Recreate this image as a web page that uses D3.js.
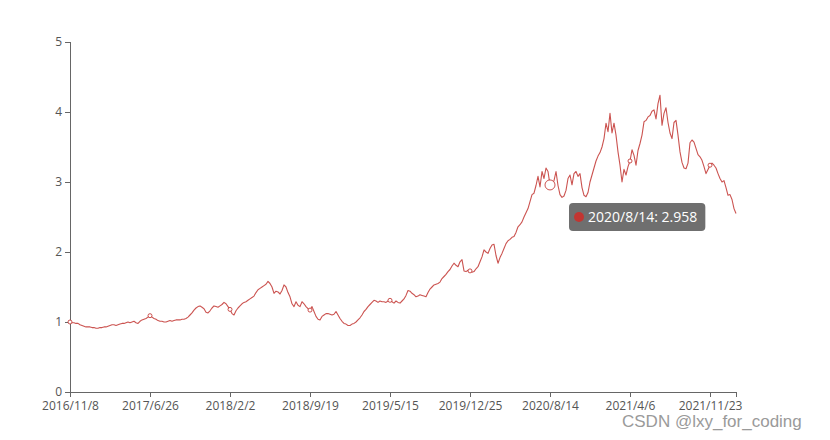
<!doctype html>
<html lang="en">
<head>
    <meta charset="UTF-8">
    <title>Document</title>
    <style>
        body { margin: 0; background: #fff; }
        text { font-family: "Open Sans", "Noto Sans", sans-serif; }
    </style>
</head>
<body>

<div class="canvas">
    <svg width="830" height="440"></svg>
</div>

<script src="https://d3js.org/d3.v7.min.js"></script>
<script>
    // x tick labels, one every `tickEvery` samples
    const tickLabels = ['2016/11/8', '2017/6/26', '2018/2/2', '2018/9/19', '2019/5/15',
        '2019/12/25', '2020/8/14', '2021/4/6', '2021/11/23'];
    const tickEvery = 40;
    const yTicks = [0, 1, 2, 3, 4, 5];

    const values = [
        1.00, 0.99, 0.99, 0.98, 0.98, 0.96, 0.95, 0.94, 0.93, 0.93, 0.93, 0.92, 0.92, 0.91, 0.91,
        0.92, 0.92, 0.93, 0.93, 0.94, 0.95, 0.96, 0.96, 0.95, 0.96, 0.97, 0.98, 0.98, 0.99, 1.00,
        0.99, 1.00, 1.01, 0.99, 0.98, 1.01, 1.03, 1.04, 1.05, 1.07, 1.09, 1.07, 1.05, 1.04, 1.02,
        1.01, 1.01, 1.00, 1.00, 1.01, 1.02, 1.01, 1.02, 1.03, 1.03,

        1.03, 1.04, 1.04, 1.05, 1.07, 1.10, 1.13, 1.17, 1.20, 1.22, 1.23, 1.21, 1.19, 1.14, 1.13,
        1.16, 1.20, 1.23, 1.22, 1.21, 1.23, 1.25, 1.28, 1.26, 1.22, 1.18, 1.12, 1.10, 1.16, 1.20,
        1.23, 1.26, 1.28, 1.29, 1.31, 1.33, 1.35, 1.37, 1.42, 1.46, 1.48, 1.50, 1.52, 1.54, 1.58,
        1.55, 1.50, 1.41, 1.44, 1.43, 1.40, 1.45, 1.53, 1.50, 1.42,

        1.36, 1.26, 1.22, 1.29, 1.24, 1.22, 1.29, 1.26, 1.22, 1.19, 1.17, 1.22, 1.15, 1.08, 1.04,
        1.03, 1.08, 1.10, 1.12, 1.12, 1.11, 1.10, 1.11, 1.15, 1.10, 1.05, 1.01, 0.98, 0.97, 0.95,
        0.95, 0.97, 0.98, 1.00, 1.03, 1.06, 1.10, 1.15, 1.18, 1.22, 1.25, 1.28, 1.31, 1.30, 1.28,
        1.30, 1.29, 1.29, 1.28, 1.30, 1.31, 1.29, 1.27, 1.30, 1.28,

        1.27, 1.30, 1.33, 1.38, 1.45, 1.44, 1.41, 1.39, 1.36, 1.37, 1.39, 1.38, 1.37, 1.36, 1.42,
        1.47, 1.50, 1.53, 1.54, 1.55, 1.57, 1.62, 1.65, 1.68, 1.72, 1.75, 1.80, 1.84, 1.81, 1.79,
        1.86, 1.89, 1.73, 1.72, 1.74, 1.73, 1.71, 1.72, 1.76, 1.79, 1.86, 1.93, 2.03, 2.00, 1.98,
        2.05, 2.10, 2.11, 1.95, 1.84, 1.92, 1.98, 2.05, 2.12, 2.16,

        2.18, 2.21, 2.22, 2.28, 2.36, 2.39, 2.43, 2.50, 2.56, 2.62, 2.72, 2.82, 2.84, 2.95, 3.08,
        2.93, 3.15, 3.05, 3.20, 3.15, 2.958, 2.95, 3.02, 3.15, 2.95, 2.82, 2.78, 2.80, 2.88, 3.05,
        3.10, 2.96, 3.12, 3.15, 3.08, 3.12, 2.92, 2.81, 2.79, 2.85, 3.00, 3.10, 3.20, 3.30, 3.37,
        3.42, 3.50, 3.62, 3.84, 3.72, 3.98, 3.70, 3.84, 3.67, 3.43,

        3.24, 3.00, 3.18, 3.10, 3.22, 3.30, 3.46, 3.38, 3.24, 3.45, 3.55, 3.67, 3.86, 3.88, 3.93,
        3.95, 4.01, 4.03, 3.90, 4.12, 4.24, 3.81, 3.98, 4.06, 3.85, 3.70, 3.62, 3.85, 3.88, 3.67,
        3.43, 3.28, 3.20, 3.19, 3.27, 3.56, 3.60, 3.57, 3.48, 3.39, 3.36, 3.31, 3.22, 3.12, 3.18,
        3.24, 3.27, 3.24, 3.20, 3.12, 3.05, 3.00, 3.02, 2.92, 2.81, 2.82, 2.75, 2.62, 2.55
    ];

    // hovered point shown in the tooltip
    const hoverLabel = '2020/8/14';

    const lineColor = '#c23531';
    const axisColor = '#666';
    const labelColor = '#555';

    const svg = d3.select('.canvas svg');
    const margin = { left: 70, right: 94, top: 42, bottom: 48 };
    const width = 830 - margin.left - margin.right;
    const height = 440 - margin.top - margin.bottom;

    const x = d3.scaleLinear()
        .domain([0, values.length - 1])
        .range([margin.left, margin.left + width]);
    const y = d3.scaleLinear()
        .domain([0, 5])
        .range([margin.top + height, margin.top]);

    const tickIdx = tickLabels.map((d, i) => i * tickEvery);
    const lastIdx = values.length - 1;

    // y axis
    const yAxis = d3.axisLeft(y)
        .tickValues(yTicks)
        .tickSize(5)
        .tickPadding(3)
        .tickFormat(d3.format('d'));
    const gy = svg.append('g')
        .attr('transform', `translate(${margin.left},0)`)
        .call(yAxis);
    gy.selectAll('.tick text').attr('dy', '0.3em');

    // x axis (extra unlabelled tick at the end)
    const xAxis = d3.axisBottom(x)
        .tickValues(tickIdx.concat([lastIdx]))
        .tickSize(5)
        .tickPadding(4)
        .tickFormat((d, i) => tickLabels[i] || '');
    const gx = svg.append('g')
        .attr('transform', `translate(0,${margin.top + height})`)
        .call(xAxis);
    gx.selectAll('.tick').filter(d => d === lastIdx).select('text').remove();

    [gx, gy].forEach(g => {
        g.select('.domain').attr('stroke', axisColor).attr('shape-rendering', 'crispEdges');
        g.selectAll('.tick line').attr('stroke', axisColor).attr('shape-rendering', 'crispEdges');
        g.selectAll('.tick text')
            .attr('fill', labelColor)
            .style('font-size', '12px')
            .style('font-family', '"Open Sans", "Noto Sans", sans-serif');
    });

    // line
    const line = d3.line()
        .x((d, i) => x(i))
        .y(d => y(d));

    svg.append('path')
        .datum(values)
        .attr('fill', 'none')
        .attr('stroke', lineColor)
        .attr('stroke-opacity', 0.85)
        .attr('stroke-width', 1.1)
        .attr('stroke-linejoin', 'round')
        .attr('d', line);

    // symbols at labelled points
    const hoverIdx = tickIdx[tickLabels.indexOf(hoverLabel)];
    svg.selectAll('circle.sym')
        .data(tickIdx)
        .enter()
        .append('circle')
        .attr('class', 'sym')
        .attr('cx', d => x(d))
        .attr('cy', d => y(values[d]))
        .attr('r', d => d === hoverIdx ? 5 : 2)
        .attr('fill', '#fff')
        .attr('stroke', lineColor)
        .attr('stroke-opacity', 0.85)
        .attr('stroke-width', 1);

    // tooltip
    const hx = x(hoverIdx), hy = y(values[hoverIdx]);
    const tip = svg.append('g')
        .attr('transform', `translate(${hx + 19},${hy + 18})`);
    const tipRect = tip.append('rect')
        .attr('height', 28)
        .attr('rx', 4)
        .attr('fill', 'rgba(50,50,50,0.7)');
    tip.append('circle')
        .attr('cx', 10)
        .attr('cy', 14)
        .attr('r', 5)
        .attr('fill', lineColor);
    const tipText = tip.append('text')
        .attr('x', 19)
        .attr('y', 19)
        .attr('fill', '#fff')
        .style('font-size', '14px')
        .text(`${hoverLabel}: ${values[hoverIdx]}`);
    tipRect.attr('width', tipText.node().getComputedTextLength() + 27);

    // watermark
    svg.append('text')
        .attr('x', 622)
        .attr('y', 427)
        .attr('fill', '#9a9a9a')
        .style('font-family', '"Liberation Sans", Arial, sans-serif')
        .style('font-size', '17px')
        .text('CSDN @lxy_for_coding');

</script>
</body>
</html>
